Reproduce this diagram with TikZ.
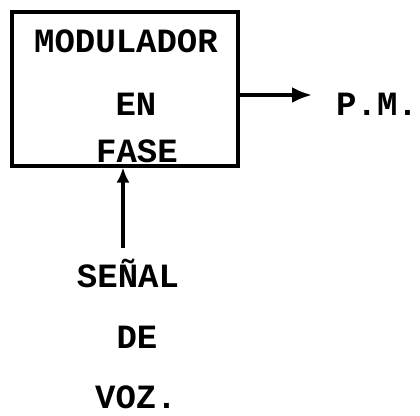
\documentclass[tikz,border=0pt]{standalone}
\usepackage{fontspec}
\setmonofont{Liberation Mono}
\usetikzlibrary{arrows.meta, positioning, calc}

\begin{document}
\begin{tikzpicture}[x=1pt, y=-1pt,
    bloque/.style={draw, line width=4pt, minimum width=226pt, minimum height=154pt, inner sep=0pt},
    lbl/.style={inner sep=0pt, anchor=base, font=\fontsize{34}{40}\selectfont\ttfamily\bfseries},
    arrow/.style={-{Latex[length=20pt, width=16pt]}, line width=3.5pt},
    arrowin/.style={-{Latex[length=15pt, width=13pt]}, line width=3.5pt}
]
    \useasboundingbox (0,0) rectangle (420,415);
    % bloque modulador
    \node[bloque] (mod) at (124.5,88.5) {};
    \node[lbl] (tmod) at (126,52) {MODULADOR};
    \node[lbl] (ten) at (136,115) {EN};
    \node[lbl] (tfase) at (137,162) {FASE};
    % salida
    \coordinate (salida) at (312,95);
    \draw[arrow] (mod.east |- salida) -- (salida);
    \node[lbl, anchor=base west] (pm) at (336,115) {P.M.};
    % entrada
    \coordinate (entrada) at (123,248);
    \draw[arrowin] (entrada) -- (entrada |- mod.south);
    \node[lbl] (senal) at (128,287) {SEÑAL};
    \node[lbl] (de) at (137,348) {DE};
    \node[lbl] (voz) at (136,408) {VOZ.};
\end{tikzpicture}
\end{document}
